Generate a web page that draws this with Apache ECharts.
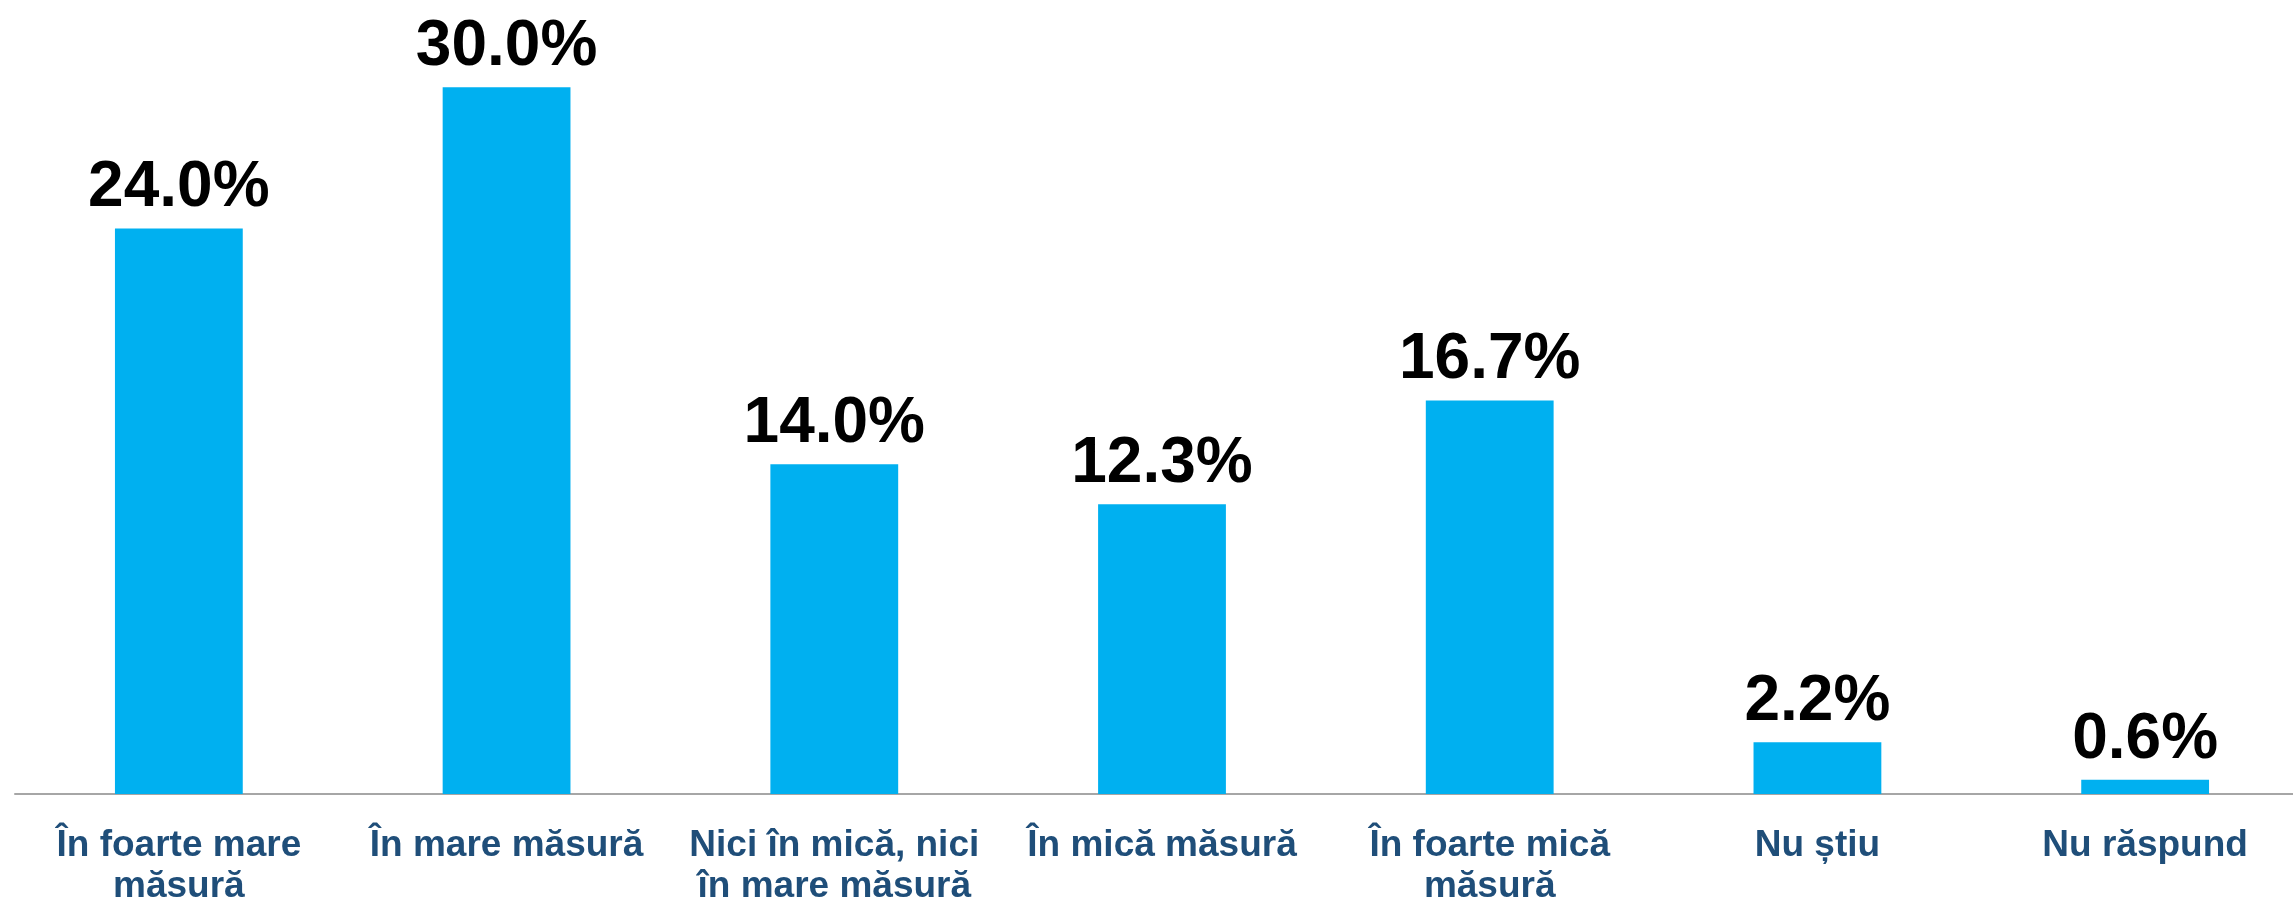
<!DOCTYPE html>
<html>
<head>
<meta charset="utf-8">
<script src="https://cdn.jsdelivr.net/npm/echarts@6/dist/echarts.min.js"></script>
<style>
  html, body { margin: 0; padding: 0; background: #fff; }
  #chart { width: 2293px; height: 899px; }
</style>
</head>
<body>
<div id="chart"></div>
<script>
// Data
const categories = [
  "În foarte mare\nmăsură",
  "În mare măsură",
  "Nici în mică, nici\nîn mare măsură",
  "În mică măsură",
  "În foarte mică\nmăsură",
  "Nu știu",
  "Nu răspund",
];
const shares = [24.0, 30.0, 14.0, 12.3, 16.7, 2.2, 0.6];

const myChart = echarts.init(document.getElementById("chart"));

const option = {
  animation: false,
  grid: {
    left: 15,
    width: 2294,
    top: 0,
    height: 794,
    containLabel: false,
    outerBoundsMode: "none", // v6: don't shrink grid to fit labels
  },
  xAxis: {
    type: "category",
    data: categories,
    axisLine: { lineStyle: { color: "#a6a6a6", width: 2 } },
    axisTick: { length: 11, lineStyle: { color: "#a6a6a6", width: 2 } },
    axisLabel: {
      interval: 0,
      margin: 31,
      color: "#1f4e79",
      fontFamily: "Liberation Sans, Arial, sans-serif",
      fontWeight: "bold",
      fontSize: 37,
      lineHeight: 41,
    },
  },
  yAxis: {
    type: "value",
    min: 0,
    max: 33.7,
    show: false,
    splitLine: { show: false },
  },
  series: [
    {
      type: "bar",
      data: shares,
      barWidth: "39%",
      itemStyle: { color: "#00b0f0" },
      label: {
        show: true,
        position: "top",
        distance: 8,
        color: "#000",
        fontFamily: "Liberation Sans, Arial, sans-serif",
        fontWeight: "bold",
        fontSize: 64,
        formatter: (p) => p.value.toFixed(1) + "%",
      },
    },
  ],
};

myChart.setOption(option);
</script>
</body>
</html>
